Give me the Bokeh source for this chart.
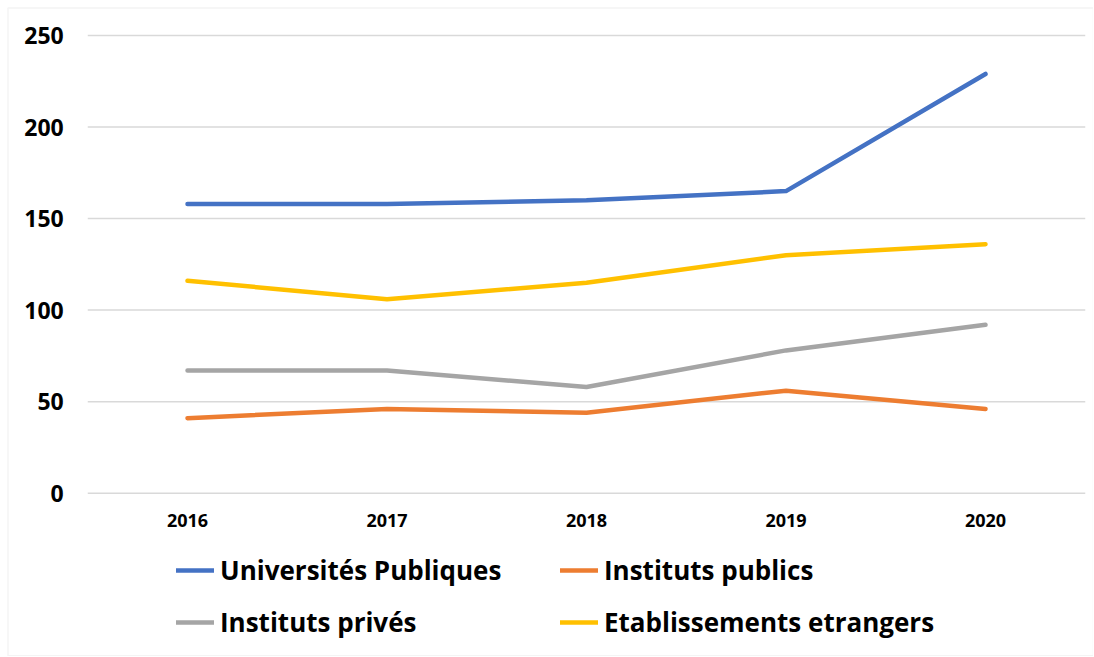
from bokeh.plotting import figure
from bokeh.models import Legend, LegendItem, BoxAnnotation, ColumnDataSource
from bokeh.core.properties import value
from bokeh.embed import file_html
from bokeh.resources import INLINE

years = [2016, 2017, 2018, 2019, 2020]
year_labels = ["2016", "2017", "2018", "2019", "2020"]
universites_publiques = [158, 158, 160, 165, 229]
instituts_publics = [41, 46, 44, 56, 46]
instituts_prives = [67, 67, 58, 78, 92]
etablissements_etrangers = [116, 106, 115, 130, 136]
y_ticks = [0, 50, 100, 150, 200, 250]
y_tick_labels = ["0", "50", "100", "150", "200", "250"]

FONT = "Open Sans"
W, H = 1093, 656

# pixel layout of the plotting area inside the canvas
PX_LEFT, PX_RIGHT = 87.25, 1084.75   # edges of the category band
PX_Y0, PX_Y250 = 492.7, 35.0          # pixel rows of y=0 and y=250

x_lo = years[0] - 0.5
x_hi = years[-1] + 0.5
ppx = (PX_RIGHT - PX_LEFT) / (x_hi - x_lo)
x_start = x_lo - PX_LEFT / ppx
x_end = x_hi + (W - PX_RIGHT) / ppx
ppy = (PX_Y0 - PX_Y250) / (y_ticks[-1] - y_ticks[0])
y_end = y_ticks[-1] + PX_Y250 / ppy
y_start = y_ticks[0] - (H - PX_Y0) / ppy

p = figure(width=W, height=H, x_range=(x_start, x_end), y_range=(y_start, y_end),
           x_axis_type=None, y_axis_type=None,
           output_backend="svg", toolbar_location=None,
           min_border_left=0, min_border_right=0, min_border_top=0, min_border_bottom=0)
p.outline_line_color = None
p.xgrid.visible = False
p.ygrid.visible = False
p.background_fill_color = "white"
p.border_fill_color = "white"

# horizontal gridlines at the y ticks
grid_src = ColumnDataSource(dict(x0=[x_lo] * len(y_ticks), x1=[x_hi] * len(y_ticks),
                                 y=y_ticks))
p.segment(x0="x0", x1="x1", y0="y", y1="y", source=grid_src,
          line_color="#D9D9D9", line_width=1.5)

series = [
    ("Universités Publiques", universites_publiques, "#4472C4"),
    ("Instituts publics", instituts_publics, "#ED7D31"),
    ("Instituts privés", instituts_prives, "#A5A5A5"),
    ("Etablissements etrangers", etablissements_etrangers, "#FFC000"),
]
renderers = {}
for name, vals, col in series:
    r = p.line(years, vals, line_color=col, line_width=4.5, line_cap="round", line_join="round")
    renderers[name] = r

# tick labels
p.text(x=[x_lo] * len(y_ticks), y=y_ticks, text=y_tick_labels,
       x_offset=-24, text_align="right", text_baseline="middle",
       text_font=value(FONT), text_font_style="bold", text_font_size="23px",
       text_color="#000000")
p.text(x=years, y=[y_ticks[0]] * len(years), text=year_labels,
       y_offset=27, text_align="center", text_baseline="middle",
       text_font=value(FONT), text_font_style="bold", text_font_size="18px",
       text_color="#000000")

# outer border of the chart (light grey frame around the whole chart)
p.add_layout(BoxAnnotation(left=x_start + 7.5 / ppx, right=None,
                           top=y_end - 7.5 / ppy, bottom=y_start + 0.8 / ppy,
                           fill_color=None, fill_alpha=0,
                           line_color="#D9D9D9", line_width=1.5))

names = [s[0] for s in series]
rows = [[names[0], names[1]], [names[2], names[3]]]
offsets = [68, 16]
for row, yoff in zip(rows, offsets):
    items = [LegendItem(label=n, renderers=[renderers[n]]) for n in row]
    lg = Legend(items=items, orientation="horizontal",
                label_text_font=FONT, label_text_font_style="bold",
                label_text_font_size="26px", label_text_color="#000000",
                glyph_width=38, glyph_height=32, label_standoff=6,
                spacing=10, padding=0, margin=0, border_line_color=None,
                background_fill_alpha=0,
                label_height=32, label_width=330, location=(176, yoff))
    p.add_layout(lg, "center")

open("out.html", "w").write(file_html(p, INLINE))
